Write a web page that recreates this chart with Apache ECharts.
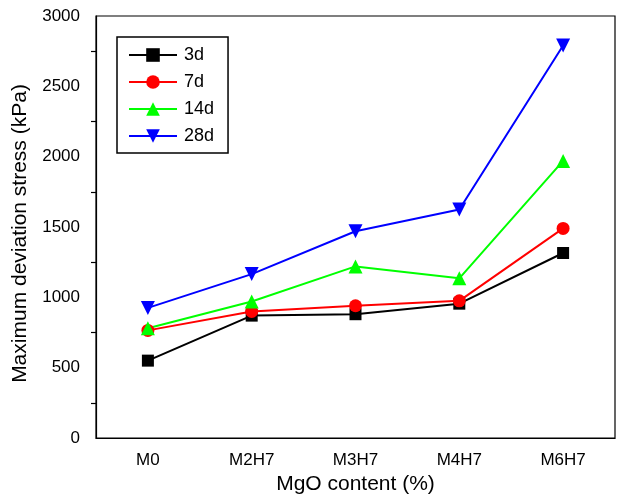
<!DOCTYPE html>
<html>
<head>
<meta charset="utf-8">
<script src="https://cdn.jsdelivr.net/npm/echarts@6/dist/echarts.min.js"></script>
<style>
  html, body { margin: 0; padding: 0; background: #fff; }
  #chart { width: 619px; height: 501px; }
</style>
</head>
<body>
<div id="chart"></div>
<script>
// Mix designs along the x axis
const categories = ['M0', 'M2H7', 'M3H7', 'M4H7', 'M6H7'];

// Maximum deviation stress (kPa) by curing age
const stress3d = [550, 870, 880, 955, 1315];
const stress7d = [765, 900, 940, 975, 1490];
const stress14d = [780, 970, 1220, 1135, 1970];
const stress28d = [925, 1165, 1470, 1625, 2790];

const seriesNames = ['3d', '7d', '14d', '28d'];

const FONT = '"Liberation Sans", Arial, Helvetica, sans-serif';

function lineSeries(name, data, color, symbol, size, rotate) {
  return {
    name: name,
    type: 'line',
    data: data,
    symbol: symbol,
    symbolSize: size,
    symbolRotate: rotate || 0,
    lineStyle: { color: color, width: 2 },
    itemStyle: { color: color },
    z: 3
  };
}

const chart = echarts.init(document.getElementById('chart'), null, { renderer: 'canvas' });

chart.setOption({
  animation: false,
  backgroundColor: '#ffffff',
  textStyle: { fontFamily: FONT, color: '#000' },
  grid: {
    left: 96, right: 4, top: 16, bottom: 63,
    show: true, borderColor: '#000', borderWidth: 1.2,
    containLabel: false
  },
  legend: {
    orient: 'vertical',
    left: 117, top: 37,
    data: seriesNames,
    backgroundColor: '#fff',
    borderColor: '#000',
    borderWidth: 1.5,
    padding: [9, 14, 8, 11],
    itemWidth: 48,
    itemHeight: 17,
    itemGap: 9,
    textStyle: { fontFamily: FONT, fontSize: 18, color: '#000', padding: [0, 0, 0, 2] }
  },
  xAxis: {
    type: 'category',
    data: categories,
    boundaryGap: true,
    name: 'MgO content (%)',
    nameLocation: 'middle',
    nameGap: 35,
    nameTextStyle: { fontFamily: FONT, fontSize: 21, color: '#000' },
    axisLine: { lineStyle: { color: '#000', width: 1.2 } },
    axisTick: { alignWithLabel: true, inside: false, length: 7, lineStyle: { color: '#000', width: 1.2 } },
    axisLabel: { fontFamily: FONT, fontSize: 17, color: '#000', margin: 14 },
    splitLine: { show: false }
  },
  yAxis: {
    type: 'value',
    min: 0, max: 3000, interval: 500,
    name: 'Maximum deviation stress (kPa)',
    nameLocation: 'middle',
    nameGap: 65,
    nameTextStyle: { fontFamily: FONT, fontSize: 21, color: '#000', padding: [0, 13, 0, 0] },
    axisLine: { show: true, lineStyle: { color: '#000', width: 1.2 } },
    axisTick: { inside: false, length: 9, lineStyle: { color: '#000', width: 1.2 } },
    minorTick: { show: true, splitNumber: 2, length: 5, lineStyle: { color: '#000', width: 1.2 } },
    axisLabel: {
      fontFamily: FONT, fontSize: 17, color: '#000', margin: 16,
      formatter: function (v) { return String(v); }
    },
    splitLine: { show: false }
  },
  series: [
    lineSeries('3d', stress3d, '#000000', 'rect', 12),
    lineSeries('7d', stress7d, '#ff0000', 'circle', 13),
    lineSeries('14d', stress14d, '#00ff00', 'triangle', 14),
    lineSeries('28d', stress28d, '#0000ff', 'triangle', 14, 180)
  ]
});
</script>
</body>
</html>
